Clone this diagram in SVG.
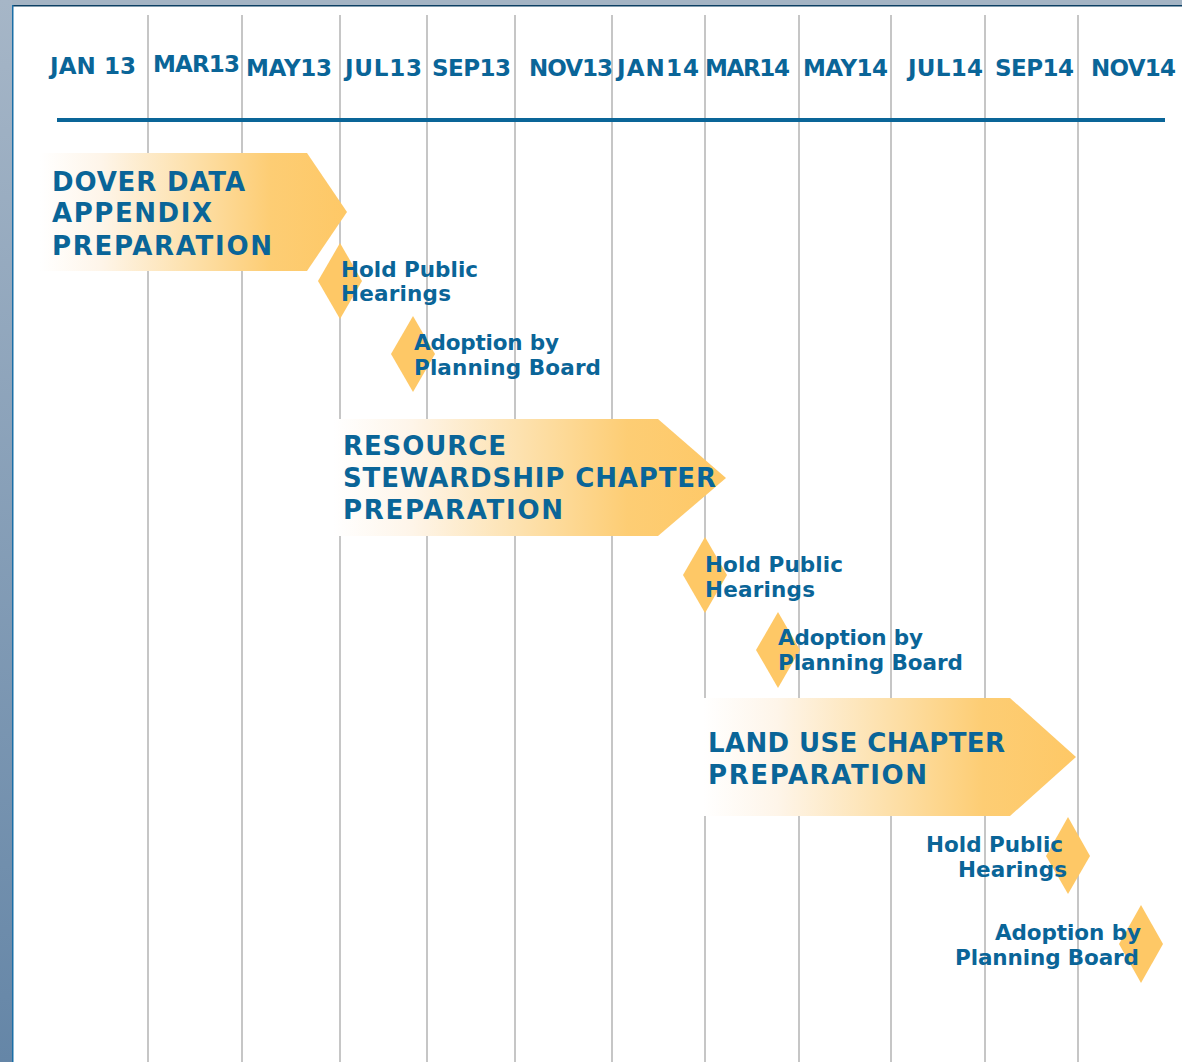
<svg xmlns="http://www.w3.org/2000/svg" width="1182" height="1062" viewBox="0 0 1182 1062">
<style>
.grid line{stroke:#c6c6c6;stroke-width:2}
.mon{font-family:"DejaVu Sans",Verdana,sans-serif;font-weight:bold;font-size:23px;fill:#0a6598}
.ttl{font-family:"DejaVu Sans",Verdana,sans-serif;font-weight:bold;font-size:26px;fill:#0a6598}
.ms{font-family:"DejaVu Sans",Verdana,sans-serif;font-weight:bold;font-size:21.5px;fill:#0a6598}
.dia{fill:#fec866}
.arrow{fill:url(#gr)}
</style>
<defs>
<linearGradient id="gr" x1="0" y1="0" x2="1" y2="0">
<stop offset="0" stop-color="#ffffff"/>
<stop offset="0.2" stop-color="#fef5e9"/>
<stop offset="0.47" stop-color="#fde2b0"/>
<stop offset="0.75" stop-color="#fdcd74"/>
<stop offset="1" stop-color="#fec866"/>
</linearGradient>
<linearGradient id="side" x1="0" y1="0" x2="0" y2="1">
<stop offset="0" stop-color="#a6b6c7"/>
<stop offset="1" stop-color="#6586a7"/>
</linearGradient>
</defs>
<rect x="0" y="0" width="1182" height="1062" fill="#ffffff"/>
<rect x="0" y="0" width="1182" height="6" fill="#a4b4c4"/>
<rect x="0" y="0" width="12" height="1062" fill="url(#side)"/>
<rect x="12" y="5" width="1170" height="1.5" fill="#0c3f63"/>
<rect x="12" y="5" width="1.5" height="1057" fill="#1a6ea6"/>

<g class="grid" id="grid">
<line x1="148" y1="15" x2="148" y2="1062"/>
<line x1="242" y1="15" x2="242" y2="1062"/>
<line x1="340" y1="15" x2="340" y2="1062"/>
<line x1="427" y1="15" x2="427" y2="1062"/>
<line x1="515" y1="15" x2="515" y2="1062"/>
<line x1="612" y1="15" x2="612" y2="1062"/>
<line x1="705" y1="15" x2="705" y2="1062"/>
<line x1="799" y1="15" x2="799" y2="1062"/>
<line x1="891" y1="15" x2="891" y2="1062"/>
<line x1="985" y1="15" x2="985" y2="1062"/>
<line x1="1078" y1="15" x2="1078" y2="1062"/>
</g>

<g id="axis">
<line x1="57" y1="120" x2="1165" y2="120" stroke="#0a6598" stroke-width="4"/>
</g>

<g id="months">
<text class="mon" x="50" y="74" textLength="86">JAN 13</text>
<text class="mon" x="153" y="72" textLength="87">MAR13</text>
<text class="mon" x="246" y="76" textLength="86">MAY13</text>
<text class="mon" x="345" y="76" textLength="77">JUL13</text>
<text class="mon" x="432" y="76" textLength="79">SEP13</text>
<text class="mon" x="529" y="76" textLength="84">NOV13</text>
<text class="mon" x="617" y="76" textLength="82">JAN14</text>
<text class="mon" x="705" y="76" textLength="85">MAR14</text>
<text class="mon" x="803" y="76" textLength="85">MAY14</text>
<text class="mon" x="908" y="76" textLength="75">JUL14</text>
<text class="mon" x="995" y="76" textLength="79">SEP14</text>
<text class="mon" x="1091" y="76" textLength="85">NOV14</text>
</g>

<g id="dover">
<polygon class="arrow" points="40,153 307,153 347,212 307,271 40,271"/>
<text class="ttl" x="52" y="191" textLength="193">DOVER DATA</text>
<text class="ttl" x="52" y="222" textLength="160">APPENDIX</text>
<text class="ttl" x="52" y="255" textLength="220">PREPARATION</text>
</g>

<g id="hearing1">
<polygon class="dia" points="340,243 362,281 340,319 318,281"/>
<text class="ms" x="341" y="277" textLength="137">Hold Public</text>
<text class="ms" x="341" y="301" textLength="110">Hearings</text>
</g>

<g id="adoption1">
<polygon class="dia" points="413,316 435,354 413,392 391,354"/>
<text class="ms" x="414" y="350" textLength="145">Adoption by</text>
<text class="ms" x="414" y="375" textLength="187">Planning Board</text>
</g>

<g id="resource">
<polygon class="arrow" points="333,419 658,419 726,478 658,536 333,536"/>
<text class="ttl" x="343" y="455" textLength="163">RESOURCE</text>
<text class="ttl" x="343" y="487" textLength="373">STEWARDSHIP CHAPTER</text>
<text class="ttl" x="343" y="519" textLength="220">PREPARATION</text>
</g>

<g id="hearing2">
<polygon class="dia" points="705,537 727,575 705,613 683,575"/>
<text class="ms" x="705" y="572" textLength="138">Hold Public</text>
<text class="ms" x="705" y="597" textLength="110">Hearings</text>
</g>

<g id="adoption2">
<polygon class="dia" points="778,612 800,650 778,688 756,650"/>
<text class="ms" x="778" y="645" textLength="145">Adoption by</text>
<text class="ms" x="778" y="670" textLength="185">Planning Board</text>
</g>

<g id="landuse">
<polygon class="arrow" points="703,698 1010,698 1076,757 1010,816 703,816"/>
<text class="ttl" x="708" y="752" textLength="297">LAND USE CHAPTER</text>
<text class="ttl" x="708" y="784" textLength="219">PREPARATION</text>
</g>

<g id="hearing3">
<polygon class="dia" points="1068,817 1090,856 1068,894 1046,856"/>
<text class="ms" x="926" y="852" textLength="137">Hold Public</text>
<text class="ms" x="958" y="877" textLength="109">Hearings</text>
</g>

<g id="adoption3">
<polygon class="dia" points="1141,905 1163,944 1141,983 1119,944"/>
<text class="ms" x="995" y="940" textLength="146">Adoption by</text>
<text class="ms" x="955" y="965" textLength="184">Planning Board</text>
</g>

<g id="connectors"></g>
</svg>
